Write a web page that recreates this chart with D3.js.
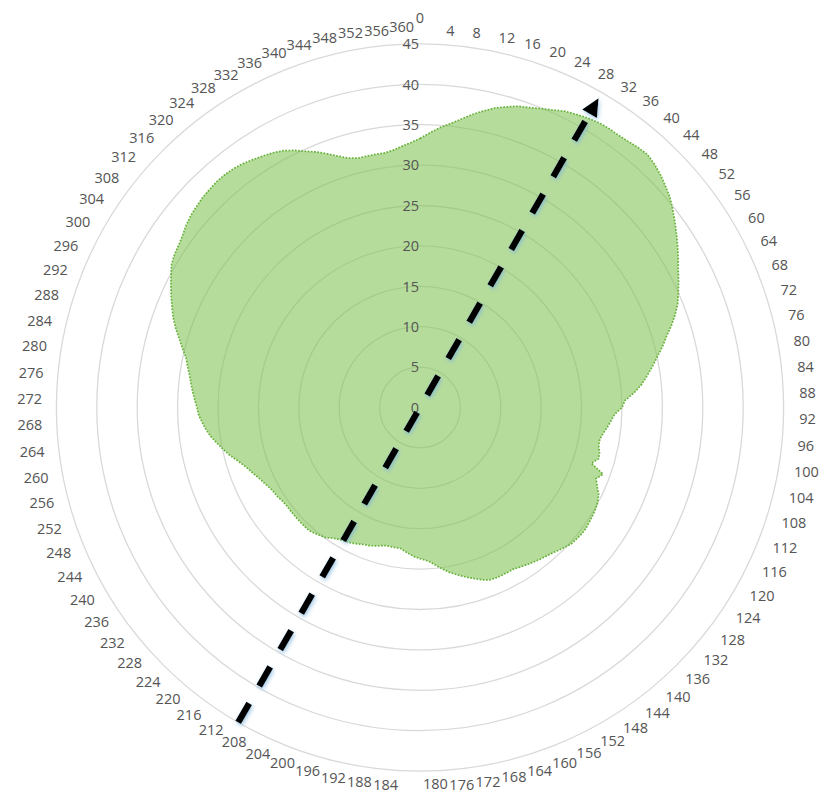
<!DOCTYPE html>
<html>
<head>
<meta charset="utf-8">
<script src="https://cdn.jsdelivr.net/npm/d3@7"></script>
<style>
  html, body { margin: 0; padding: 0; background: #ffffff; }
  svg { display: block; font-family: "Open Sans", "Noto Sans", sans-serif; }
</style>
</head>
<body>
<svg id="chart" width="819" height="793"></svg>
<script>
// Bearing (degrees) of each sample around the rose
const angles = d3.range(0, 361, 2);

// Radial value at each bearing
const values = [
  33.3, 34.0, 34.7, 35.3, 36.0, 36.8, 37.5, 38.2, 38.7, 39.2,
  39.5, 39.9, 40.3, 40.8, 41.1, 41.4, 41.6, 41.7, 41.7, 41.8,
  42.0, 42.1, 41.8, 41.4, 40.9, 40.4, 39.7, 39.0, 38.3, 37.6,
  36.9, 36.2, 35.6, 35.0, 34.4, 33.6, 32.7, 31.7, 30.9, 30.0,
  29.2, 28.4, 27.6, 26.6, 25.4, 25.0, 24.1, 23.7, 23.3, 22.9,
  22.6, 22.6, 22.9, 23.0, 22.3, 24.1, 23.5, 24.0, 24.6, 24.9,
  25.1, 25.2, 25.3, 25.4, 25.4, 25.3, 25.2, 24.9, 24.6, 24.3,
  24.1, 23.9, 23.7, 23.5, 23.3, 23.1, 23.1, 23.1, 23.1, 23.0,
  22.7, 22.3, 21.9, 21.5, 21.1, 20.7, 20.2, 19.7, 19.2, 18.9,
  18.7, 18.5, 18.2, 17.9, 17.6, 17.6, 17.6, 17.6, 17.8, 18.0,
  18.2, 18.3, 18.5, 18.7, 18.9, 19.0, 19.2, 19.5, 19.9, 20.1,
  20.3, 20.5, 20.5, 20.5, 20.5, 20.5, 20.5, 20.5, 20.6, 20.8,
  20.9, 21.1, 21.4, 21.7, 22.1, 22.5, 23.0, 23.6, 24.3, 24.9,
  25.5, 26.1, 26.6, 27.0, 27.4, 27.6, 27.9, 28.2, 28.5, 28.8,
  29.2, 29.6, 30.3, 31.0, 31.8, 32.5, 33.1, 33.7, 34.3, 34.9,
  35.5, 35.8, 36.0, 36.3, 36.7, 37.0, 37.2, 37.4, 37.5, 37.6,
  37.6, 37.5, 37.3, 37.0, 36.7, 36.4, 36.0, 35.4, 34.7, 34.1,
  33.4, 32.7, 32.1, 31.8, 31.8, 31.8, 31.8, 32.0, 32.4, 32.8,
  33.3
];

// Category labels placed around the rim
const axisLabels = d3.range(0, 361, 4);

// Value-axis rings
const ringTicks = [0, 5, 10, 15, 20, 25, 30, 35, 40, 45];

// Direction arrow: bearing of the head, radius at the tail and at the tip
const arrowBearing = [30];
const arrowRadii = [45, 44.2];

const svg = d3.select("#chart");
const cx = 420, cy = 407.5, rMax = 363.6;

const r = d3.scaleLinear().domain([0, 45]).range([0, rMax]);
const ang = d3.scaleLinear().domain([0, 360]).range([0, 2 * Math.PI]);

const polar = (deg, radius) => {
  const t = ang(deg);
  return [cx + radius * Math.sin(t), cy - radius * Math.cos(t)];
};

// Glow used by the arrow
const defs = svg.append("defs");
const glow = defs.append("filter").attr("id", "glow")
  .attr("x", "-50%").attr("y", "-50%").attr("width", "200%").attr("height", "200%");
glow.append("feGaussianBlur").attr("in", "SourceAlpha").attr("stdDeviation", 2.2).attr("result", "blur");
glow.append("feOffset").attr("in", "blur").attr("dx", 1).attr("dy", 1.5).attr("result", "off");
glow.append("feFlood").attr("flood-color", "#7fb4dc").attr("flood-opacity", 0.75);
glow.append("feComposite").attr("in2", "off").attr("operator", "in").attr("result", "shadow");
const merge = glow.append("feMerge");
merge.append("feMergeNode").attr("in", "shadow");
merge.append("feMergeNode").attr("in", "SourceGraphic");

const g = svg.append("g").attr("transform", `translate(${cx},${cy})`);

// Rings
g.append("g").selectAll("circle")
  .data(ringTicks.filter(d => d > 0))
  .join("circle")
  .attr("r", d => r(d))
  .attr("fill", "none")
  .attr("stroke", "#d9d9d9")
  .attr("stroke-width", 1.3);

// Filled series
const area = d3.lineRadial()
  .angle(d => ang(d[0]))
  .radius(d => r(d[1]))
  .curve(d3.curveLinearClosed);
const pts = angles.map((a, i) => [a, values[i]]);

g.append("path")
  .attr("d", area(pts))
  .attr("fill", "rgb(130,194,82)")
  .attr("fill-opacity", 0.58)
  .attr("stroke", "#66b13a")
  .attr("stroke-width", 1.7)
  .attr("stroke-dasharray", "1.7 1.5");

// Ring value labels
g.append("g").selectAll("text")
  .data(ringTicks)
  .join("text")
  .attr("x", -1)
  .attr("y", d => -r(d))
  .attr("dy", "0.36em")
  .attr("text-anchor", "end")
  .attr("font-size", 14.5)
  .attr("fill", "#555555")
  .text(d => d);

// Category labels around the rim
const R = 378;
svg.append("g").selectAll("text")
  .data(axisLabels)
  .join("text")
  .each(function (d) {
    const t = ang(d);
    const s2 = Math.sin(t) * Math.sin(t);
    const [px, py] = polar(d, R);
    const sel = d3.select(this);
    if (d === 0) {
      sel.attr("x", px).attr("y", py - 12).attr("text-anchor", "middle");
    } else if (d === 360) {
      sel.attr("x", px - 6).attr("y", py - 3).attr("text-anchor", "end");
    } else if (d === 180) {
      sel.attr("x", px + 3).attr("y", py - 2).attr("text-anchor", "start");
    } else if (d < 180) {
      sel.attr("x", px + 1.5 * (1 - Math.cos(t))).attr("y", py - 1.5 * s2).attr("text-anchor", "start");
    } else {
      sel.attr("x", px - 4.5 * Math.cos(t)).attr("y", py + 4.5 * s2).attr("text-anchor", "end");
    }
  })
  .attr("dy", "0.36em")
  .attr("font-size", 14.5)
  .attr("fill", "#555555")
  .text(d => d);

// Dashed direction arrow through the centre
const bearing = arrowBearing[0];
const tail = polar(bearing + 180, r(arrowRadii[0]));
const tipR = r(arrowRadii[1]);
const headLen = 18, headHalf = 8.5;
const tip = polar(bearing, tipR);
const base = polar(bearing, tipR - headLen);
const ux = Math.sin(ang(bearing)), uy = -Math.cos(ang(bearing));
const arrowG = svg.append("g").attr("filter", "url(#glow)");
arrowG.append("line")
  .attr("x1", tail[0]).attr("y1", tail[1])
  .attr("x2", base[0]).attr("y2", base[1])
  .attr("stroke", "#000")
  .attr("stroke-width", 6.5)
  .attr("stroke-dasharray", "22 20");
arrowG.append("path")
  .attr("d", `M${tip[0]},${tip[1]} L${base[0] - uy * headHalf},${base[1] + ux * headHalf} L${base[0] + uy * headHalf},${base[1] - ux * headHalf} Z`)
  .attr("fill", "#000");
</script>
</body>
</html>
